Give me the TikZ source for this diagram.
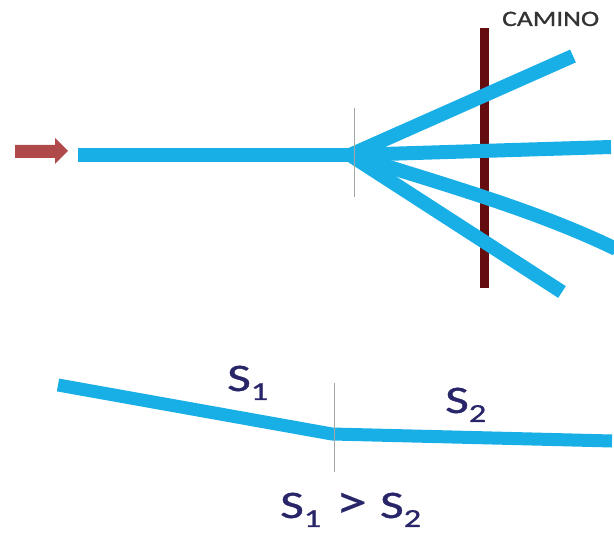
\documentclass[tikz,border=0pt]{standalone}
\usepackage{fontspec}
\setmainfont{Carlito}
\newfontfamily\labfont[FakeBold=0.8]{Carlito}
\newfontfamily\gtfont[FakeBold=0.3]{Carlito}
\definecolor{pipe}{RGB}{24,174,230}
\definecolor{camino}{RGB}{100,12,14}
\definecolor{arrowred}{RGB}{176,74,74}
\definecolor{navy}{RGB}{40,38,105}
\definecolor{thin}{RGB}{165,165,165}
\newcommand{\subnum}[1]{\raisebox{-9pt}{\fontsize{26}{28}\selectfont #1}}
\newcommand{\bigS}[1]{\scalebox{1.32}[1]{\labfont\fontsize{39}{41}\selectfont S\subnum{#1}}}
\begin{document}
\begin{tikzpicture}[x=1pt,y=-1pt,
  pipeline/.style={draw=pipe,line width=14pt,line cap=butt,line join=miter},
  marker/.style={draw=thin,line width=0.9pt},
  lab/.style={text=navy,inner sep=0pt,anchor=base west}]
\useasboundingbox (0,0) rectangle (614,534);
% coordinates
\coordinate (src) at (78,155);
\coordinate (split) at (350,155);
\coordinate (e1) at (573,56);
\coordinate (e2) at (611,147);
\coordinate (e3) at (616,249);
\coordinate (e4) at (562,292);
% red arrow
\fill[arrowred] (15,145) -- (55,145) -- (55,138) -- (68,151) -- (55,164) -- (55,158) -- (15,158) -- cycle;
% camino bar
\draw[camino,line width=9pt,line cap=butt] (484,28) -- (484,288);
\node[anchor=base west,inner sep=0pt,text=black!80] (cam) at (502,26) {\scalebox{1.25}[1]{\labfont\fontsize{22}{24}\selectfont CAMINO}};
% branches
\draw[pipeline] (src) -- (split);
\draw[pipeline] (split) -- (e1);
\draw[pipeline] (split) -- (e2);
\draw[pipeline] (split) .. controls (450,186) and (540,212) .. (e3);
\draw[pipeline] (split) -- (e4);
\draw[marker] (354,108) -- (354,197);
% bottom
\coordinate (b0) at (58,385);
\coordinate (bk) at (332,434);
\coordinate (b1) at (612,441);
\draw[pipeline,line width=13pt] (b0) -- (bk) -- (b1);
\draw[marker] (334,383) -- (334,472);
\node[lab] (s1) at (227,391) {\bigS{1}};
\node[lab] (s2) at (445,413) {\bigS{2}};
\node[lab] (cmp) at (280,518) {\scalebox{1.32}[1]{\labfont\fontsize{39}{41}\selectfont S\subnum{1}\hspace{0.28em}{\gtfont\fontsize{48}{50}\selectfont\textgreater}\hspace{0.25em}S\subnum{2}}};
\end{tikzpicture}
\end{document}
